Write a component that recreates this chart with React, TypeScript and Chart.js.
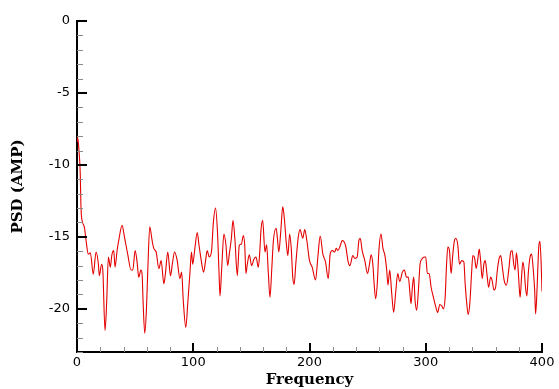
import React, { useEffect, useRef } from "react";
import { Chart, registerables } from "chart.js";

Chart.register(...registerables);

const FREQ: number[] = [
  0, 0.6, 1.7, 2.8, 3.4, 4.8, 6.3, 7.8, 9.7, 11.5, 14, 16.4, 18.4, 19.2, 21.2, 22.2, 24.1, 25.5, 27, 28.7,
  29.9, 31.6, 32.7, 34.5, 35.9, 38.8, 40.8, 43.6, 46.5, 48, 50, 51.7, 53.1, 55, 56, 56.9, 58.3, 59.7, 60.9, 62.6,
  64.6, 66, 68.1, 70.4, 72.4, 74.7, 76, 78.1, 80.4, 82, 83.9, 86.2, 88.5, 90, 91.4, 93.6, 95.3, 97.1, 98.5, 99.5,
  101.4, 103.4, 105, 106.9, 108.9, 110.6, 112, 113.8, 115.8, 117.2, 119.2, 120.8, 122.1, 123, 124.4, 126.4, 128.1, 129.6, 131, 132.8,
  134.2, 135.9, 137.9, 139.6, 141.4, 143.1, 144.3, 145.3, 146.5, 148.2, 150.2, 152.2, 154, 156, 157.3, 158.2, 159.7, 161.7, 163.1, 164.6,
  166, 167.5, 168.9, 171.3, 172.4, 173.6, 175.3, 177, 178.5, 180, 181.4, 182.9, 184.3, 185.6, 186.8, 188.2, 190.2, 191.9, 194.2, 195.9,
  197.7, 200, 202.3, 205.2, 207.2, 209.2, 211.5, 213.8, 216.1, 217.8, 219.6, 221.6, 223, 224.5, 226.5, 228.1, 231, 233.3, 234.7, 237.3,
  239, 241, 242.5, 243.6, 245.3, 247.6, 249.9, 251.6, 253, 254.5, 255.6, 256.9, 258.3, 259.7, 261.5, 263.2, 264.9, 266.4, 267.5, 269,
  270.7, 272.4, 274.1, 275.9, 277.6, 279.9, 281.6, 283.4, 285, 286.2, 287.3, 288.5, 289.7, 290.8, 292.2, 293.7, 295.1, 296.6, 298.9, 300,
  301.4, 302.9, 304.6, 306.6, 308.6, 310.3, 312.1, 313.8, 315.2, 316.7, 317.8, 319, 320.4, 321.8, 323.3, 324.7, 325.9, 327.6, 329, 331,
  332.8, 333.9, 335.3, 336.5, 337.9, 339.4, 340.5, 342, 343.4, 344.8, 346, 347.2, 348.6, 350, 351.2, 352.6, 354.1, 355.8, 357, 358.7,
  360.1, 361.6, 363.3, 364.5, 365.9, 367.4, 369.4, 371.4, 373.1, 374.3, 375.7, 376.9, 378, 379.5, 380.4, 381.2, 382.4, 383.5, 384.7, 385.8,
  387, 388.2, 389.6, 391.1, 392.5, 393.7, 394.5, 395.7, 397.2, 398.2, 399.3, 400,
];

const PSD: number[] = [
  -8.4, -8.1, -9.0, -10.6, -12.9, -14.0, -14.3, -15.25, -16.2, -16.1, -17.6, -16.05, -16.9, -17.7, -16.9, -17.3, -21.5, -19.6, -16.4, -17.1,
  -16.3, -15.95, -17.1, -15.95, -15.25, -14.2, -15.0, -16.2, -17.3, -17.3, -15.95, -16.75, -17.8, -17.3, -17.6, -19.6, -21.7, -20.1, -17.3, -14.3,
  -15.25, -15.8, -16.05, -17.2, -16.65, -18.25, -17.6, -16.05, -17.7, -16.9, -16.05, -16.65, -17.9, -17.45, -19.4, -21.3, -19.6, -17.55, -16.05, -16.9,
  -15.8, -14.7, -15.6, -16.65, -17.45, -16.65, -15.95, -16.4, -15.95, -14.1, -13.0, -14.6, -17.3, -19.1, -17.3, -14.8, -15.55, -17.0, -16.2, -15.1,
  -13.85, -15.25, -17.7, -15.6, -15.5, -14.9, -15.6, -17.55, -16.9, -16.25, -17.0, -16.55, -16.4, -17.1, -15.95, -14.6, -13.85, -16.05, -15.55, -17.55,
  -19.2, -17.3, -15.3, -14.4, -15.1, -16.05, -14.6, -12.9, -13.85, -15.4, -16.3, -14.8, -15.8, -17.8, -18.3, -16.9, -15.1, -14.5, -15.1, -14.5,
  -15.25, -16.65, -17.1, -18.0, -16.4, -14.95, -16.2, -16.75, -17.9, -16.2, -15.95, -16.05, -15.8, -15.95, -15.6, -15.25, -15.6, -16.75, -17.0, -16.3,
  -16.5, -16.4, -15.25, -15.1, -15.95, -16.65, -17.55, -16.9, -16.25, -16.9, -18.25, -19.3, -18.25, -15.95, -14.8, -15.8, -16.3, -17.3, -18.35, -17.3,
  -18.9, -20.25, -18.9, -17.55, -18.1, -17.45, -17.3, -17.8, -17.8, -18.7, -19.65, -18.5, -17.8, -19.4, -20.1, -18.7, -16.9, -16.55, -16.4, -16.4,
  -17.55, -17.55, -18.5, -19.2, -19.85, -20.25, -19.7, -19.8, -20.0, -19.2, -17.1, -15.7, -15.95, -17.55, -16.2, -15.25, -15.1, -15.6, -16.9, -16.65,
  -16.75, -18.25, -19.65, -20.4, -19.65, -17.55, -16.3, -16.45, -17.2, -16.55, -15.85, -16.65, -17.9, -16.9, -16.65, -17.55, -18.5, -17.8, -18.0, -18.7,
  -18.5, -17.3, -16.45, -16.3, -17.1, -18.0, -18.35, -17.3, -16.05, -15.95, -16.9, -17.3, -16.1, -17.3, -18.5, -19.2, -17.8, -16.75, -17.3, -18.5,
  -19.1, -17.55, -16.45, -16.2, -17.3, -18.7, -20.35, -18.7, -15.7, -15.3, -16.9, -18.8,
];

const X_TICKS: number[] = [0, 100, 200, 300, 400];
const Y_TICKS: number[] = [0, -5, -10, -15, -20];
const X_TITLE = "Frequency";
const Y_TITLE = "PSD (AMP)";

const innerTicks = {
  id: "innerTicks",
  afterDraw(chart: any) {
    const { ctx, chartArea, scales } = chart;
    const x = scales.x;
    const y = scales.y;
    ctx.save();
    for (let v = 0; v >= y.min; v -= 1) {
      const major = Y_TICKS.includes(v);
      const py = Math.round(y.getPixelForValue(v)) + (major ? 0 : 0.5);
      ctx.strokeStyle = major ? "#000" : "#8a8a8a";
      ctx.lineWidth = major ? 2 : 1;
      ctx.beginPath();
      ctx.moveTo(chartArea.left, py);
      ctx.lineTo(chartArea.left + (major ? 10 : 6), py);
      ctx.stroke();
    }
    for (let v = 0; v <= x.max; v += 20) {
      const major = X_TICKS.includes(v);
      const px = Math.round(x.getPixelForValue(v)) + (major ? 0 : 0.5);
      ctx.strokeStyle = major ? "#000" : "#8a8a8a";
      ctx.lineWidth = major ? 2 : 1;
      ctx.beginPath();
      ctx.moveTo(px, chartArea.bottom);
      ctx.lineTo(px, chartArea.bottom - (major ? 9 : 5));
      ctx.stroke();
    }
    ctx.restore();
  },
};

export default function App() {
  const ref = useRef<HTMLCanvasElement | null>(null);

  useEffect(() => {
    if (!ref.current) return;
    const points = FREQ.map((f, i) => ({ x: f, y: PSD[i] }));
    const chart = new Chart(ref.current, {
      type: "line",
      data: {
        datasets: [
          {
            data: points,
            borderColor: "rgb(228,0,0)",
            borderWidth: 1.1,
            pointRadius: 0,
            fill: false,
            cubicInterpolationMode: "monotone",
          },
        ],
      },
      options: {
        responsive: false,
        animation: false,
        events: [],
        layout: { padding: { top: 21, right: 17, left: 0, bottom: 0 } },
        plugins: { legend: { display: false }, tooltip: { enabled: false } },
        scales: {
          x: {
            type: "linear",
            min: 0,
            max: 400,
            grid: { display: false, drawTicks: false },
            border: { display: true, color: "#000", width: 2 },
            afterBuildTicks: (s: any) => {
              s.ticks = X_TICKS.map((v) => ({ value: v }));
            },
            afterFit: (s: any) => {
              s.height = 37;
            },
            ticks: {
              color: "#000",
              padding: 3,
              maxRotation: 0,
              font: { family: "'DejaVu Sans', sans-serif", size: 13 },
            },
            title: {
              display: true,
              text: X_TITLE,
              color: "#000",
              padding: { top: 0, bottom: 0 },
              font: { family: "'DejaVu Serif', serif", size: 15, weight: "bold" },
            },
          },
          y: {
            type: "linear",
            min: -23,
            max: 0,
            grid: { display: false, drawTicks: false },
            border: { display: true, color: "#000", width: 2 },
            afterBuildTicks: (s: any) => {
              s.ticks = Y_TICKS.map((v) => ({ value: v }));
            },
            afterFit: (s: any) => {
              s.width = 77;
            },
            ticks: {
              color: "#000",
              padding: 7,
              font: { family: "'DejaVu Sans', sans-serif", size: 13 },
            },
            title: {
              display: true,
              text: Y_TITLE,
              color: "#000",
              padding: { top: 9, bottom: 0 },
              font: { family: "'DejaVu Serif', serif", size: 15, weight: "bold" },
            },
          },
        },
      },
      plugins: [innerTicks],
    });
    return () => chart.destroy();
  }, []);

  return (
    <div style={{ position: "fixed", left: 0, top: 0, width: 559, height: 389, background: "#fff" }}>
      <canvas ref={ref} width={559} height={389} style={{ display: "block" }} />
    </div>
  );
}
